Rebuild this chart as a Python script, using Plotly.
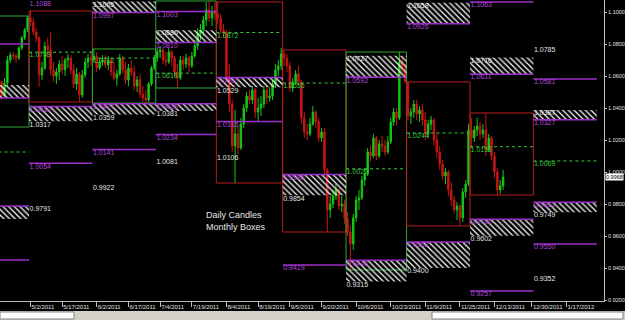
import pandas as pd
import plotly.graph_objects as go

# ---------------- data ----------------
months = ["2011-04", "2011-05", "2011-06", "2011-07", "2011-08",
          "2011-09", "2011-10", "2011-11", "2011-12", "2012-01"]

first_open = 1.0310

apr_hi = [1.0360, 1.0385, 1.0380, 1.0425, 1.0480, 1.0570, 1.0580, 1.0545, 1.0525, 1.0560, 1.0580,
          1.0563, 1.0588, 1.0725, 1.0750, 1.0750, 1.0738, 1.0788, 1.0850, 1.0900, 1.0975]
apr_lo = [1.0281, 1.0320, 1.0300, 1.0320, 1.0400, 1.0460, 1.0510, 1.0440, 1.0450, 1.0490, 1.0520,
          1.0450, 1.0463, 1.0538, 1.0680, 1.0700, 1.0681, 1.0700, 1.0763, 1.0825, 1.0875]
apr_cl = [1.0340, 1.0370, 1.0330, 1.0415, 1.0470, 1.0560, 1.0540, 1.0460, 1.0515, 1.0550, 1.0565,
          1.0475, 1.0556, 1.0700, 1.0731, 1.0725, 1.0713, 1.0775, 1.0838, 1.0888, 1.0963]

may_hi = [1.1006, 1.0963, 1.0900, 1.0850, 1.0688, 1.0813, 1.0838, 1.0875, 1.0688, 1.0650, 1.0700,
          1.0725, 1.0713, 1.0738, 1.0731, 1.0675, 1.0650, 1.0625, 1.0638, 1.0713, 1.0738, 1.0750]
may_lo = [1.0913, 1.0856, 1.0813, 1.0531, 1.0575, 1.0638, 1.0713, 1.0606, 1.0563, 1.0550, 1.0575,
          1.0613, 1.0600, 1.0650, 1.0613, 1.0525, 1.0513, 1.0438, 1.0463, 1.0588, 1.0650, 1.0663]
may_cl = [1.0938, 1.0875, 1.0838, 1.0606, 1.0650, 1.0788, 1.0763, 1.0638, 1.0600, 1.0625, 1.0675,
          1.0638, 1.0700, 1.0713, 1.0638, 1.0550, 1.0613, 1.0481, 1.0606, 1.0688, 1.0713, 1.0700]

jun_hi = [1.0769, 1.0750, 1.0713, 1.0731, 1.0731, 1.0725, 1.0713, 1.0688, 1.0638, 1.0738, 1.0725,
          1.0688, 1.0675, 1.0700, 1.0663, 1.0600, 1.0613, 1.0538, 1.0513, 1.0563, 1.0663, 1.0731]
jun_lo = [1.0688, 1.0625, 1.0638, 1.0663, 1.0650, 1.0638, 1.0600, 1.0575, 1.0538, 1.0600, 1.0613,
          1.0550, 1.0538, 1.0600, 1.0513, 1.0500, 1.0463, 1.0438, 1.0431, 1.0438, 1.0538, 1.0638]
jun_cl = [1.0725, 1.0650, 1.0688, 1.0700, 1.0669, 1.0700, 1.0625, 1.0588, 1.0613, 1.0713, 1.0638,
          1.0575, 1.0650, 1.0625, 1.0538, 1.0575, 1.0488, 1.0463, 1.0450, 1.0550, 1.0650, 1.0713]

jul_hi = [1.0775, 1.0788, 1.0775, 1.0750, 1.0775, 1.0763, 1.0725, 1.0675, 1.0725, 1.0725, 1.0738,
          1.0725, 1.0750, 1.0825, 1.0900, 1.0925, 1.0975, 1.1063, 1.1069, 1.1038, 1.1063]
jul_lo = [1.0688, 1.0713, 1.0675, 1.0663, 1.0675, 1.0663, 1.0600, 1.0525, 1.0575, 1.0638, 1.0650,
          1.0625, 1.0650, 1.0713, 1.0763, 1.0825, 1.0850, 1.0913, 1.0938, 1.0913, 1.0950]
jul_cl = [1.0750, 1.0763, 1.0700, 1.0688, 1.0750, 1.0713, 1.0625, 1.0588, 1.0700, 1.0675, 1.0713,
          1.0663, 1.0725, 1.0788, 1.0863, 1.0888, 1.0950, 1.1013, 1.0963, 1.1000, 1.0988]

aug_hi = [1.1063, 1.0988, 1.0925, 1.0888, 1.0675, 1.0450, 1.0388, 1.0288, 1.0338, 1.0425, 1.0500,
          1.0513, 1.0538, 1.0525, 1.0463, 1.0475, 1.0538, 1.0538, 1.0525, 1.0575, 1.0675, 1.0700, 1.0775]
aug_lo = [1.0925, 1.0863, 1.0838, 1.0563, 1.0375, 1.0125, 0.9931, 1.0113, 1.0138, 1.0275, 1.0375,
          1.0425, 1.0425, 1.0338, 1.0313, 1.0350, 1.0400, 1.0425, 1.0438, 1.0450, 1.0525, 1.0600, 1.0638]
aug_cl = [1.0963, 1.0888, 1.0875, 1.0588, 1.0425, 1.0163, 1.0238, 1.0150, 1.0300, 1.0400, 1.0475,
          1.0450, 1.0513, 1.0375, 1.0400, 1.0425, 1.0513, 1.0463, 1.0475, 1.0550, 1.0638, 1.0663, 1.0738]

sep_hi = [1.0763, 1.0738, 1.0688, 1.0588, 1.0638, 1.0663, 1.0575, 1.0375, 1.0300, 1.0338, 1.0413,
          1.0388, 1.0338, 1.0275, 1.0275, 1.0025, 0.9850, 0.9888, 0.9925, 0.9900, 0.9850, 0.9825]
sep_lo = [1.0663, 1.0625, 1.0500, 1.0500, 1.0550, 1.0538, 1.0300, 1.0213, 1.0200, 1.0225, 1.0288,
          1.0275, 1.0188, 1.0188, 0.9975, 0.9625, 0.9713, 0.9775, 0.9825, 0.9763, 0.9750, 0.9675]
sep_cl = [1.0713, 1.0663, 1.0525, 1.0563, 1.0613, 1.0563, 1.0338, 1.0250, 1.0238, 1.0300, 1.0375,
          1.0313, 1.0213, 1.0250, 1.0013, 0.9763, 0.9800, 0.9850, 0.9888, 0.9788, 0.9800, 0.9713]

oct_hi = [0.9750, 0.9663, 0.9738, 0.9850, 0.9888, 0.9975, 1.0025, 1.0150, 1.0163, 1.0238, 1.0225,
          1.0200, 1.0225, 1.0200, 1.0225, 1.0338, 1.0400, 1.0400, 1.0750, 1.0725, 1.0675]
oct_lo = [0.9600, 0.9388, 0.9513, 0.9688, 0.9763, 0.9825, 0.9913, 0.9975, 1.0063, 1.0088, 1.0075,
          1.0088, 1.0125, 1.0100, 1.0113, 1.0175, 1.0288, 1.0288, 1.0325, 1.0613, 1.0563]
oct_cl = [0.9625, 0.9550, 0.9713, 0.9825, 0.9838, 0.9950, 0.9988, 1.0125, 1.0100, 1.0213, 1.0100,
          1.0175, 1.0163, 1.0125, 1.0188, 1.0313, 1.0375, 1.0338, 1.0688, 1.0650, 1.0563]

nov_hi = [1.0563, 1.0400, 1.0450, 1.0450, 1.0413, 1.0425, 1.0375, 1.0325, 1.0350, 1.0338, 1.0250,
          1.0163, 1.0075, 1.0025, 1.0013, 0.9938, 0.9850, 0.9813, 0.9800, 0.9900, 0.9950, 1.0300]
nov_lo = [1.0325, 1.0300, 1.0338, 1.0325, 1.0313, 1.0288, 1.0200, 1.0213, 1.0263, 1.0163, 1.0088,
          1.0013, 0.9950, 0.9925, 0.9850, 0.9788, 0.9738, 0.9700, 0.9663, 0.9688, 0.9838, 0.9913]
nov_cl = [1.0350, 1.0375, 1.0425, 1.0363, 1.0388, 1.0325, 1.0238, 1.0300, 1.0325, 1.0200, 1.0125,
          1.0050, 0.9975, 1.0000, 0.9888, 0.9825, 0.9763, 0.9788, 0.9713, 0.9875, 0.9925, 1.0263]

dec_hi = [1.0338, 1.0288, 1.0338, 1.0313, 1.0300, 1.0369, 1.0238, 1.0225, 1.0125, 1.0025, 0.9950, 1.0013]
dec_lo = [1.0150, 1.0188, 1.0225, 1.0200, 1.0213, 1.0100, 1.0125, 1.0075, 0.9963, 0.9856, 0.9863, 0.9888]
dec_cl = [1.0213, 1.0263, 1.0288, 1.0238, 1.0263, 1.0138, 1.0213, 1.0100, 1.0000, 0.9888, 0.9913, 0.9968]

# monthly levels (one value per month in `months`, None = not shown)
lvl_r3     = [None, None, None, None, None, None, None, None, None, 1.0785]
lvl_r2     = [1.0800, None, None, 1.1003, None, None, None, None, 1.1063, 1.0581]
lvl_r1_top = [1.0544, None, 1.1065, 1.0886, None, None, 1.0727, 1.1058, 1.0716, 1.0387]
lvl_r1_bot = [1.0463, 1.1088, 1.0997, 1.0810, None, None, 1.0592, 1.0926, 1.0611, 1.0327]
lvl_pivot  = [1.0125, 1.0749, 1.0712, 1.0618, 1.0872, 1.0556, 1.0020, 1.0244, 1.0158, 1.0069]
lvl_s1_top = [0.9787, 1.0410, 1.0427, 1.0426, 1.0590, 0.9985, 0.9448, 0.9562, 0.9705, 0.9811]
lvl_s1_bot = [0.9706, 1.0317, 1.0359, 1.0381, 1.0529, 0.9854, 0.9315, 0.9400, 0.9602, 0.9749]
lvl_s2     = [0.9450, 1.0054, 1.0141, 1.0234, 1.0316, 0.9419, None, None, 0.9257, 0.9550]
lvl_s3     = [None, 0.9791, 0.9922, 1.0081, 1.0106, None, None, None, None, 0.9352]

date_labels = ["4/15/2011", "5/2/2011", "5/17/2011", "6/2/2011", "6/17/2011", "7/4/2011",
               "7/19/2011", "8/4/2011", "8/19/2011", "9/5/2011", "9/20/2011", "10/6/2011",
               "10/23/2011", "11/9/2011", "11/25/2011", "12/13/2011", "12/30/2011", "1/17/2012"]

price_ticks = [0.92, 0.94, 0.96, 0.98, 1.00, 1.02, 1.04, 1.06, 1.08, 1.10]

note_text = "Daily Candles<br>Monthly Boxes"

# ---------------- layout constants ----------------
W, H = 625, 320
ML, MR, MT, MB = 0, 21, 0, 19
PW, PH = W - ML - MR, H - MT - MB
X_RANGE = [10.44, 220.0]
Y_RANGE = [0.919375, 1.1075]

BG = "#000000"
UP = "#14c814"
DN = "#c81414"
BOX_UP = "#2ea62e"
BOX_DN = "#b41e1e"
PURPLE = "#9b2fc8"
PURPLE_TXT = "#b648d8"
GREEN_DOT = "#3cc83c"
WHITE_TXT = "#e6e6e6"
FONT = "Liberation Sans"

# ---------------- calendar ----------------
all_days = pd.bdate_range("2011-04-01", "2012-01-31")
month_of = list(all_days.to_period("M").astype(str))
month_pos = {m: [i for i, p in enumerate(month_of) if p == m] for m in months}
edges = {m: (month_pos[m][0] - 0.5, month_pos[m][-1] + 0.5) for m in months}

his = [apr_hi, may_hi, jun_hi, jul_hi, aug_hi, sep_hi, oct_hi, nov_hi, dec_hi]
los = [apr_lo, may_lo, jun_lo, jul_lo, aug_lo, sep_lo, oct_lo, nov_lo, dec_lo]
cls = [apr_cl, may_cl, jun_cl, jul_cl, aug_cl, sep_cl, oct_cl, nov_cl, dec_cl]

cx, co, ch, cl, cc = [], [], [], [], []
boxes = []
prev = first_open
for m, hh, ll, cl_m in zip(months, his, los, cls):
    pos = month_pos[m][:len(cl_m)]
    m_open = prev
    for i, a, b, d in zip(pos, hh, ll, cl_m):
        cx.append(i)
        co.append(prev)
        ch.append(max(a, prev, d))
        cl.append(min(b, prev, d))
        cc.append(d)
        prev = d
    boxes.append((m, max(ch[-len(pos):]), min(cl[-len(pos):]), cl_m[-1] >= m_open))

fig = go.Figure()

# monthly boxes
for m, top, bot, up in boxes:
    x0, x1 = edges[m]
    fig.add_trace(go.Scatter(x=[x0, x1, x1, x0, x0], y=[bot, bot, top, top, bot], mode="lines",
                             line=dict(color=BOX_UP if up else BOX_DN, width=1),
                             hoverinfo="skip", showlegend=False))

# hatched zones
def hatch(tops, bots):
    for m, t, b in zip(months, tops, bots):
        if t is None or b is None:
            continue
        x0, x1 = edges[m]
        fig.add_trace(go.Scatter(x=[x0, x1, x1, x0, x0], y=[b, b, t, t, b], mode="lines",
                                 line=dict(width=0, color="rgba(0,0,0,0)"), fill="toself",
                                 fillcolor="rgba(0,0,0,0)",
                                 fillpattern=dict(shape="\\", fgcolor="#ffffff", bgcolor="rgba(0,0,0,0)",
                                                  size=4, solidity=0.3),
                                 hoverinfo="skip", showlegend=False))

hatch(lvl_r1_top, lvl_r1_bot)
hatch(lvl_s1_top, lvl_s1_bot)

# level lines
def seg(vals, color, dash, width):
    xs, ys = [], []
    for m, v in zip(months, vals):
        if v is None:
            continue
        x0, x1 = edges[m]
        xs += [x0, x1, None]
        ys += [v, v, None]
    fig.add_trace(go.Scatter(x=xs, y=ys, mode="lines", line=dict(color=color, dash=dash, width=width),
                             hoverinfo="skip", showlegend=False))

seg(lvl_r2, PURPLE, "solid", 1.5)
seg(lvl_r1_bot, PURPLE, "solid", 1.5)
seg(lvl_s1_top, PURPLE, "solid", 1.5)
seg(lvl_s2, PURPLE, "solid", 1.5)
seg(lvl_pivot, GREEN_DOT, "dot", 1)

# candles
fig.add_trace(go.Candlestick(x=cx, open=co, high=ch, low=cl, close=cc,
                             increasing=dict(line=dict(color=UP, width=1), fillcolor=UP),
                             decreasing=dict(line=dict(color=DN, width=1), fillcolor=DN),
                             whiskerwidth=0, hoverinfo="skip", showlegend=False))

# level labels
lx, ly, lt, lc = [], [], [], []
for vals, col in [(lvl_r3, WHITE_TXT), (lvl_r2, PURPLE_TXT), (lvl_r1_top, WHITE_TXT),
                  (lvl_r1_bot, PURPLE_TXT), (lvl_pivot, GREEN_DOT), (lvl_s1_top, PURPLE_TXT),
                  (lvl_s1_bot, WHITE_TXT), (lvl_s2, PURPLE_TXT), (lvl_s3, WHITE_TXT)]:
    for m, v in zip(months, vals):
        if v is None or edges[m][0] < X_RANGE[0]:
            continue
        lx.append(edges[m][0] + 0.2)
        ly.append(min(v, Y_RANGE[1] - 0.0004))
        lt.append(f"{v:.4f}")
        lc.append(col)
fig.add_trace(go.Scatter(x=lx, y=ly, text=lt, mode="text", textposition="bottom right",
                         textfont=dict(color=lc, size=7, family=FONT), cliponaxis=False,
                         hoverinfo="skip", showlegend=False))

# x ticks from dates
tick_pos = [int(all_days.searchsorted(pd.Timestamp(pd.to_datetime(d, format="%m/%d/%Y"))))
            for d in date_labels]

fig.update_layout(
    width=W, height=H, template="none",
    margin=dict(l=ML, r=MR, t=MT, b=MB, pad=0),
    paper_bgcolor=BG, plot_bgcolor=BG, showlegend=False,
    xaxis=dict(range=X_RANGE, tickvals=tick_pos, ticktext=date_labels, showgrid=False,
               zeroline=False, showline=True, linecolor="#bdbdbd", linewidth=1,
               ticks="outside", ticklen=5, tickcolor="#bdbdbd", tickangle=0,
               ticklabelposition="outside right", ticklabeloverflow="allow",
               tickfont=dict(color="#e0e0e0", size=6, family=FONT),
               rangeslider=dict(visible=False), automargin=False, fixedrange=True),
    yaxis=dict(range=Y_RANGE, side="right", tickvals=price_ticks, tickformat=".4f",
               showgrid=False, zeroline=False, showline=True, linecolor="#bdbdbd", linewidth=1,
               ticks="outside", ticklen=2, tickcolor="#bdbdbd", ticklabeloverflow="allow",
               tickfont=dict(color="#e0e0e0", size=5.5, family=FONT), automargin=False),
)

fig.add_annotation(x=1.0, xref="paper", y=cc[-1], yref="y", text=f"{cc[-1]:.4f}",
                   xanchor="left", yanchor="middle", showarrow=False, bgcolor="#ffffff",
                   font=dict(color="#000000", size=5.5, family=FONT), borderpad=0, xshift=1)

fig.add_annotation(x=204 / PW, xref="paper", y=1 - 208 / PH, yref="paper", text=note_text,
                   xanchor="left", yanchor="top", align="left", showarrow=False,
                   font=dict(color="#e8e8e8", size=9, family=FONT))

# bottom scrollbar strip
def py(px):
    return 1 - (px - MT) / PH

fig.add_shape(type="rect", xref="paper", yref="paper", x0=-0.01, x1=W / PW + 0.01,
              y0=py(320), y1=py(311), fillcolor="#d4d0c8", line=dict(width=0), layer="above")
fig.add_shape(type="rect", xref="paper", yref="paper", x0=0, x1=74 / PW,
              y0=py(319), y1=py(312), fillcolor="#ffffff", line=dict(width=1, color="#808080"),
              layer="above")
fig.add_shape(type="rect", xref="paper", yref="paper", x0=432 / PW, x1=623 / PW,
              y0=py(319), y1=py(312), fillcolor="#ffffff", line=dict(width=1, color="#808080"),
              layer="above")

fig.write_html("out.html")
